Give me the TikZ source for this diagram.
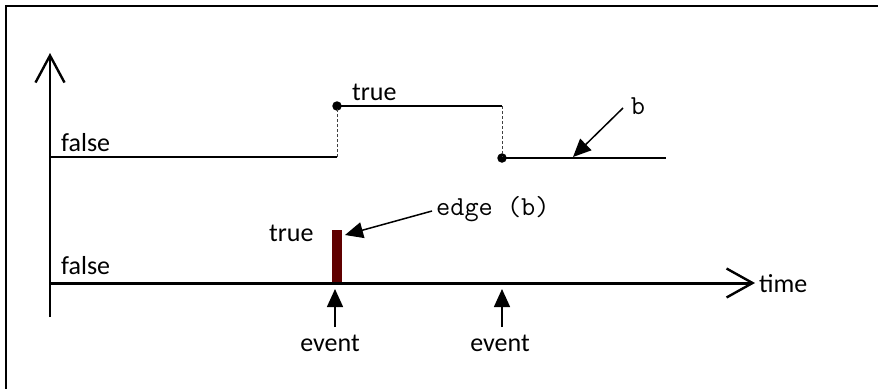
\documentclass[tikz,border=0pt]{standalone}
\usepackage{fontspec}
\setmainfont{Carlito}
\usetikzlibrary{arrows.meta}
\definecolor{barred}{RGB}{96,0,0}
\begin{document}
\begin{tikzpicture}[x=1pt,y=-1pt,
  lbl/.style={font=\fontsize{26}{30}\selectfont, inner sep=0pt},
  code/.style={font=\ttfamily\fontsize{27.5}{32}\selectfont, inner sep=0pt},
  vaxis/.style={line width=2.4pt, -{Straight Barb[length=27pt,width=29pt,line width=2.4pt]}},
  haxis/.style={line width=3pt, -{Straight Barb[length=26pt,width=29pt,line width=2.4pt]}},
  sig/.style={line width=1.4pt},
  dashv/.style={line width=0.8pt, dash pattern=on 3pt off 2pt, black!75},
  ptr/.style={line width=1.5pt, -{Triangle[length=18pt,width=16pt]}},
  dot/.style={circle, fill=black, inner sep=0pt, minimum size=9.5pt}
]
\useasboundingbox (0,0) rectangle (878,389);
% frame
\draw[line width=2pt] (878,6) -- (6,6) -- (6,389);

% axes coordinates
\coordinate (O) at (50,283);
\coordinate (Ytop) at (50,53);
\coordinate (Ybot) at (50,317);
\coordinate (Xend) at (755,283);

% signal b
\coordinate (f0) at (50,157);
\coordinate (f1) at (337,157);
\node[dot] (d1) at (337,106) {};
\coordinate (t1) at (502,106);
\node[dot] (d2) at (502,158) {};
\coordinate (f2) at (666,158);
\draw[sig] (f0) -- (f1);
\draw[dashv] (f1) -- (d1.center);
\draw[sig] (d1.center) -- (t1);
\draw[dashv] (t1) -- (d2.center);
\draw[sig] (d2.center) -- (f2);

% red bar
\fill[barred] (332,230) rectangle (342,283);

% axes
\draw[vaxis] (Ybot) -- (Ytop);
\draw[haxis] (O) -- (Xend);

% labels
\node[lbl, anchor=west] (false1) at (61,142.5) {false};
\node[lbl, anchor=west] (true1) at (352,92) {true};
\node[lbl, anchor=west] (false2) at (61,265.5) {false};
\node[lbl, anchor=west] (true2) at (269,233) {true};
\node[lbl, anchor=west] (time) at (759,284) {time};
\node[lbl] (ev1) at (330,343) {event};
\node[lbl] (ev2) at (500,343) {event};
\node[code, anchor=west] (edge) at (436,209) {edge (b)};
\node[code] (b) at (638,106) {b};

% pointers
\coordinate (bS) at (623,108);
\coordinate (bT) at (573,157);
\draw[ptr] (bS) -- (bT);
\coordinate (eS) at (432,211);
\coordinate (eT) at (345,235);
\draw[ptr] (eS) -- (eT);
\coordinate (v1S) at (335,327);
\coordinate (v1T) at (335,289);
\draw[ptr] (v1S) -- (v1T);
\coordinate (v2S) at (502,327);
\coordinate (v2T) at (502,289);
\draw[ptr] (v2S) -- (v2T);
\end{tikzpicture}
\end{document}
